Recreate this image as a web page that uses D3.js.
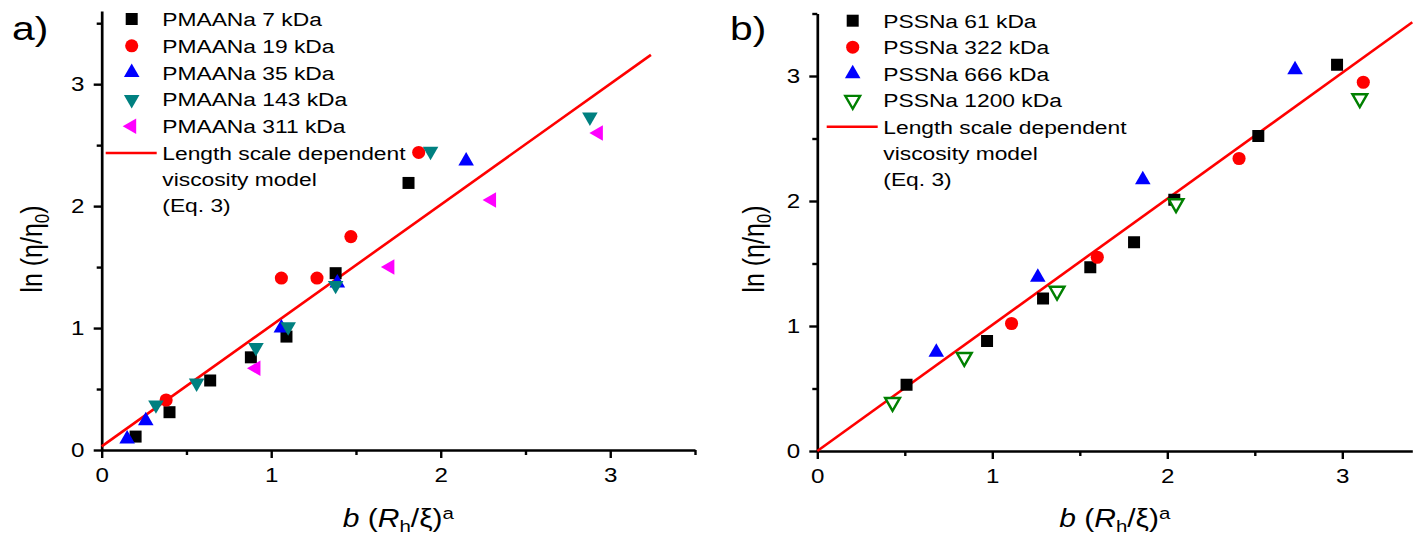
<!DOCTYPE html>
<html>
<head>
<meta charset="utf-8">
<script src="https://cdnjs.cloudflare.com/ajax/libs/d3/7.8.5/d3.min.js"></script>
<style>
  body { margin: 0; background: #fff; }
  svg { display: block; font-family: "Liberation Sans", Arial, sans-serif; }
  .axis path, .axis line { stroke: #000; stroke-width: 2.4; }
</style>
</head>
<body>
<svg width="1421" height="536"></svg>
<script>
// ---- data ----
var majorTicks = [0, 1, 2, 3],
    minorTicks = [0.5, 1.5, 2.5, 3.5];

// panel a) PMAANa
var pmaa7   = [[0.20,0.11],[0.40,0.31],[0.64,0.57],[0.88,0.76],[1.09,0.93],[1.38,1.45],[1.81,2.19]],
    pmaa19  = [[0.38,0.41],[1.06,1.41],[1.27,1.41],[1.47,1.75],[1.87,2.44]],
    pmaa35  = [[0.15,0.09],[0.26,0.24],[1.06,1.00],[1.39,1.37],[2.15,2.37]],
    pmaa143 = [[0.32,0.37],[0.56,0.55],[0.91,0.84],[1.10,1.01],[1.38,1.35],[1.94,2.45],[2.88,2.73]],
    pmaa311 = [[0.91,0.67],[1.70,1.50],[2.30,2.05],[2.93,2.60]],
    fitA    = [[0, 0.03], [3.24, 3.24]];
var namesA = ["PMAANa 7 kDa", "PMAANa 19 kDa", "PMAANa 35 kDa", "PMAANa 143 kDa", "PMAANa 311 kDa"];

// panel b) PSSNa
var pss61   = [[0.51,0.53],[0.97,0.88],[1.29,1.22],[1.56,1.47],[1.81,1.67],[2.04,2.01],[2.52,2.52],[2.97,3.09]],
    pss322  = [[1.11,1.02],[1.60,1.55],[2.41,2.34],[3.12,2.95]],
    pss666  = [[0.68,0.79],[1.26,1.39],[1.86,2.17],[2.73,3.05]],
    pss1200 = [[0.43,0.39],[0.84,0.75],[1.37,1.28],[2.05,1.98],[3.10,2.82]],
    fitB    = [[0, 0], [3.4, 3.43]];
var namesB = ["PSSNa 61 kDa", "PSSNa 322 kDa", "PSSNa 666 kDa", "PSSNa 1200 kDa"];

var modelLabel = ["Length scale dependent", "viscosity model", "(Eq. 3)"];

// ---- marker styles ----
var markers = {
  square:  {type: d3.symbolSquare,   size: 144, rot: 0,   fill: "#000"},
  circle:  {type: d3.symbolCircle,   size: 135, rot: 0,   fill: "#ff0000"},
  up:      {type: d3.symbolTriangle, size: 105, rot: 0,   fill: "#0000ff"},
  down:    {type: d3.symbolTriangle, size: 105, rot: 180, fill: "#008080"},
  left:    {type: d3.symbolTriangle, size: 105, rot: -90, fill: "#ff00ff"},
  openDown:{type: d3.symbolTriangle, size: 95,  rot: 180, fill: "#fff", stroke: "#008000"}
};

var SX = 1.2; // the source figure is stretched horizontally
var svg = d3.select("svg");

function stretchText(g, x, y, size, anchor) {
  return g.append("text")
      .attr("transform", "translate(" + x + "," + y + ") scale(" + SX + ",1)")
      .attr("text-anchor", anchor || "start")
      .style("font-size", size + "px");
}

function drawPanel(p) {
  var g = svg.append("g");
  var x = d3.scaleLinear().domain([0, p.xMax]).range(p.xRange),
      y = d3.scaleLinear().domain([0, p.yMax]).range(p.yRange);

  // axes
  var gx = g.append("g").attr("class", "axis")
      .attr("transform", "translate(0," + p.yRange[0] + ")")
      .call(d3.axisBottom(x).tickValues(majorTicks).tickSize(8).tickSizeOuter(0).tickPadding(9).tickFormat(d3.format("d")));
  g.append("g").attr("class", "axis")
      .attr("transform", "translate(0," + p.yRange[0] + ")")
      .call(d3.axisBottom(x).tickValues(minorTicks.filter(function(d) { return d <= p.xMax; })).tickSize(5).tickSizeOuter(0).tickFormat(""))
      .select(".domain").remove();
  var gy = g.append("g").attr("class", "axis")
      .attr("transform", "translate(" + p.xRange[0] + ",0)")
      .call(d3.axisLeft(y).tickValues(majorTicks).tickSize(8).tickSizeOuter(0).tickPadding(7).tickFormat(d3.format("d")));
  g.append("g").attr("class", "axis")
      .attr("transform", "translate(" + p.xRange[0] + ",0)")
      .call(d3.axisLeft(y).tickValues(minorTicks.filter(function(d) { return d <= p.yMax; })).tickSize(5).tickSizeOuter(0).tickFormat(""))
      .select(".domain").remove();
  gx.selectAll("text").style("font-size", "21px").attr("fill", "#000")
      .attr("transform", "scale(1.15,1)");
  gy.selectAll("text").style("font-size", "21px").attr("fill", "#000")
      .attr("transform", "scale(1.15,1)");
  g.selectAll(".domain").style("stroke-width", 2.7);

  // model line
  var line = d3.line().x(function(d) { return x(d[0]); }).y(function(d) { return y(d[1]); });
  g.append("path").datum(p.fit).attr("d", line)
      .attr("fill", "none").attr("stroke", "#ff0000").attr("stroke-width", 2.6);

  // points
  p.series.forEach(function(s) {
    var m = markers[s.marker];
    var sym = d3.symbol().type(m.type).size(m.size);
    g.append("g").selectAll("path").data(s.data).join("path")
        .attr("transform", function(d) { return "translate(" + x(d[0]) + "," + y(d[1]) + ") rotate(" + m.rot + ")"; })
        .attr("d", sym)
        .attr("fill", m.fill)
        .attr("stroke", m.stroke || "none")
        .attr("stroke-width", m.stroke ? 2.4 : 0);
  });

  // legend
  var lg = g.append("g");
  p.series.forEach(function(s, i) {
    var m = markers[s.marker];
    var cy = p.legY + i * p.legStep;
    lg.append("path")
        .attr("transform", "translate(" + p.legSym + "," + cy + ") rotate(" + m.rot + ")")
        .attr("d", d3.symbol().type(m.type).size(m.size))
        .attr("fill", m.fill)
        .attr("stroke", m.stroke || "none")
        .attr("stroke-width", m.stroke ? 2.4 : 0);
    stretchText(lg, p.legText, cy + 7, 19).text(s.name);
  });
  var ly = p.legY + p.series.length * p.legStep;
  lg.append("line")
      .attr("x1", p.legSym - 26).attr("x2", p.legSym + 25)
      .attr("y1", ly).attr("y2", ly)
      .attr("stroke", "#ff0000").attr("stroke-width", 2.6);
  modelLabel.forEach(function(t, i) {
    stretchText(lg, p.legText, ly + 7 + i * 26, 19).text(t);
  });

  // panel label
  stretchText(g, p.tag[0], p.tag[1], 34).text(p.tagText);

  // x title
  var xt = stretchText(g, (p.xRange[0] + p.xRange[1]) / 2, 527, 25, "middle");
  xt.append("tspan").style("font-style", "italic").text("b");
  xt.append("tspan").text(" (");
  xt.append("tspan").style("font-style", "italic").text("R");
  xt.append("tspan").attr("baseline-shift", "-30%").style("font-size", "17px").text("h");
  xt.append("tspan").text("/\u03BE)");
  xt.append("tspan").attr("baseline-shift", "45%").style("font-size", "17px").text("a");

  // y title
  var yt = g.append("text")
      .attr("transform", "translate(" + p.yTitleX + "," + p.yTitleY + ") scale(" + SX + ",1) rotate(-90)")
      .attr("text-anchor", "middle")
      .style("font-size", "25px");
  yt.append("tspan").text("ln (\u03B7/\u03B7");
  yt.append("tspan").attr("baseline-shift", "-30%").style("font-size", "17px").text("0");
  yt.append("tspan").text(")");
}

drawPanel({
  xMax: 3.5, yMax: 3.6, xRange: [101.7, 695], yRange: [450, 11],
  fit: fitA,
  series: [
    {name: namesA[0], data: pmaa7,   marker: "square"},
    {name: namesA[1], data: pmaa19,  marker: "circle"},
    {name: namesA[2], data: pmaa35,  marker: "up"},
    {name: namesA[3], data: pmaa143, marker: "down"},
    {name: namesA[4], data: pmaa311, marker: "left"}
  ],
  legSym: 131.7, legText: 162.3, legY: 19, legStep: 26.8,
  tag: [12, 40], tagText: "a)",
  yTitleX: 42, yTitleY: 249
});

drawPanel({
  xMax: 3.4, yMax: 3.5, xRange: [817.3, 1412.3], yRange: [451, 13.5],
  fit: fitB,
  series: [
    {name: namesB[0], data: pss61,   marker: "square"},
    {name: namesB[1], data: pss322,  marker: "circle"},
    {name: namesB[2], data: pss666,  marker: "up"},
    {name: namesB[3], data: pss1200, marker: "openDown"}
  ],
  legSym: 852.7, legText: 883.3, legY: 20.7, legStep: 26.5,
  tag: [730, 40], tagText: "b)",
  yTitleX: 764, yTitleY: 249
});
</script>
</body>
</html>
